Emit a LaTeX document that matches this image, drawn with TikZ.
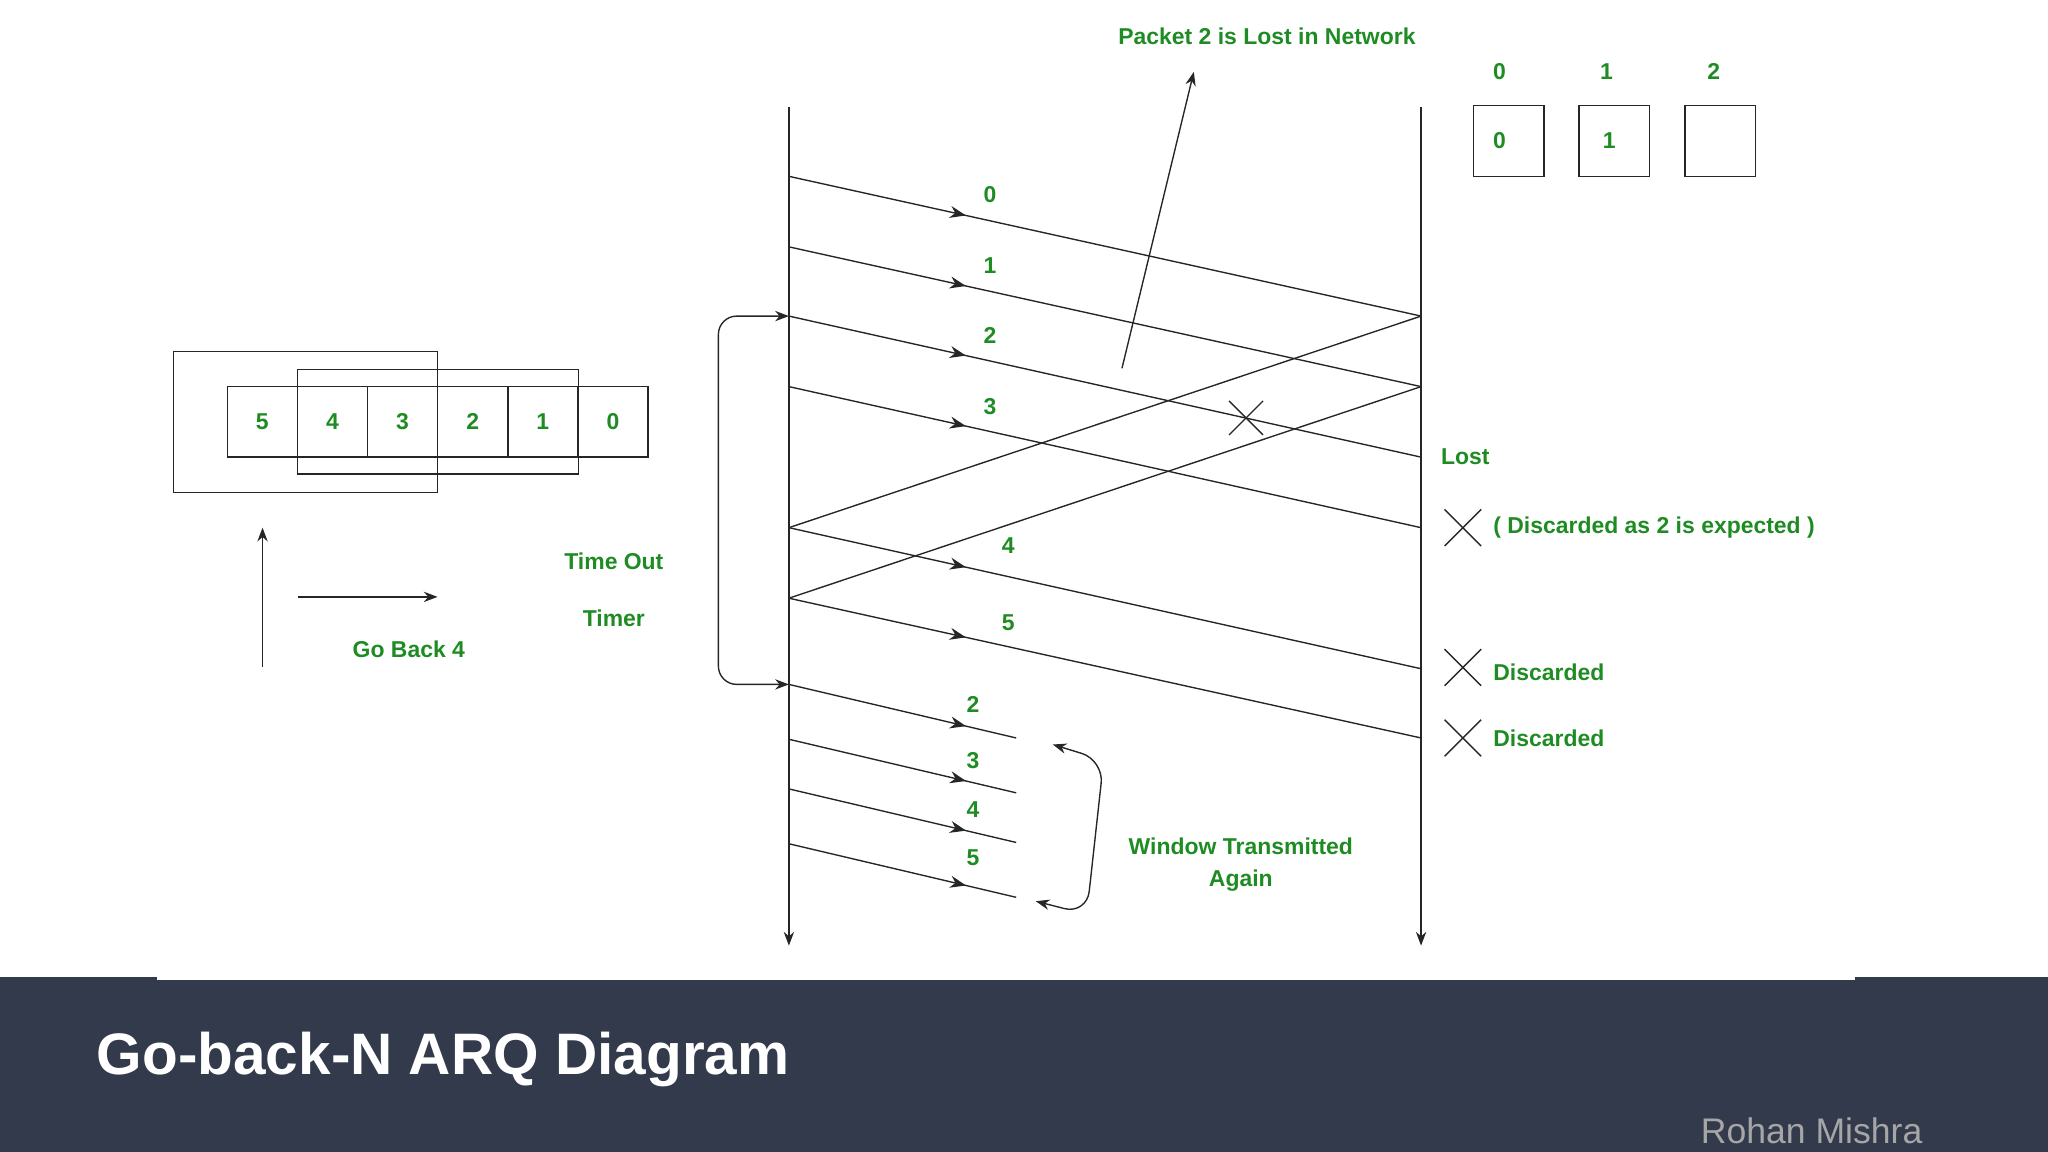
\documentclass[tikz,border=0pt]{standalone}
\usepackage{fontspec}
\setmainfont{Liberation Sans}
\usetikzlibrary{decorations.markings,arrows.meta}
\definecolor{gr}{HTML}{1E8C23}
\definecolor{band}{HTML}{323A4C}
\begin{document}
\begin{tikzpicture}[x=0.02cm,y=-0.02cm,
 lbl/.style={text=gr,font=\fontsize{10}{12}\selectfont\bfseries,inner sep=0pt},
 ln/.style={line width=0.6pt,black!85},
 fr/.style={ln,postaction={decorate},decoration={markings,mark=at position #1 with {\arrow{Stealth[length=7pt]}}}},
 bx/.style={ln,draw},
 tip/.style={-{Stealth[length=6pt]}}]
\useasboundingbox (0,0) rectangle (1568,882);
\fill[band] (0,748) rectangle (1568,882);
\fill[white] (120,746) rectangle (1420,750);
\node[anchor=west,text=white,font=\fontsize{25.5}{30}\selectfont\bfseries] (title) at (68,811) {Go-back-N ARQ Diagram};
\node[anchor=east,text=black!35,font=\fontsize{15.5}{18}\selectfont] (auth) at (1478,866) {Rohan Mishra};
% timelines
\coordinate (s0) at (604,82); \coordinate (s1) at (604,724);
\coordinate (r0) at (1088,82); \coordinate (r1) at (1088,724);
\draw[ln,tip] (s0) -- (s1);
\draw[ln,tip] (r0) -- (r1);
% frames
\foreach \n/\a/\b in {f0/135/242,f1/189/296,f2/242/350,f3/296/404,f4/404/512,f5/458/565}{
 \coordinate (\n s) at (604,\a); \coordinate (\n e) at (1088,\b);}
\draw[fr=0.28] (f0s) -- (f0e);
\draw[fr=0.28] (f1s) -- (f1e);
\draw[fr=0.28] (f2s) -- (f2e);
\draw[fr=0.28] (f3s) -- (f3e);
\draw[fr=0.28] (f4s) -- (f4e);
\draw[fr=0.28] (f5s) -- (f5e);
\draw[ln] (f0e) -- (f4s);
\draw[ln] (f1e) -- (f5s);
\node[lbl] (l0) at (758,149) {0};
\node[lbl] (l1) at (758,203) {1};
\node[lbl] (l2) at (758,257) {2};
\node[lbl] (l3) at (758,311) {3};
\node[lbl] (l4) at (772,418) {4};
\node[lbl] (l5) at (772,477) {5};
% cross on lost packet
\draw[ln] (941,307) -- (967,333) (941,333) -- (967,307);
% retransmissions
\foreach \n/\a in {g2/524,g3/566,g4/604,g5/646}{
 \coordinate (\n s) at (604,\a); \coordinate (\n e) at (778,\a+41);}
\draw[fr=0.78] (g2s) -- (g2e);
\draw[fr=0.78] (g3s) -- (g3e);
\draw[fr=0.78] (g4s) -- (g4e);
\draw[fr=0.78] (g5s) -- (g5e);
\node[lbl] (m2) at (745,539) {2};
\node[lbl] (m3) at (745,582) {3};
\node[lbl] (m4) at (745,620) {4};
\node[lbl] (m5) at (745,657) {5};
% timer bracket
\draw[ln,{Stealth[length=6pt]}-{Stealth[length=6pt]},rounded corners=8] (f2s) -- (550,242) -- (550,524) -- (g2s);
\node[lbl] (to) at (470,430) {Time Out};
\node[lbl] (tm) at (470,473) {Timer};
% packet lost label
\node[lbl] (pl) at (970,28) {Packet 2 is Lost in Network};
\coordinate (pa) at (859,282); \coordinate (pb) at (914,55);
\draw[ln,tip] (pa) -- (pb);
% window transmitted again
\draw[ln,{Stealth[length=6pt]}-{Stealth[length=6pt]},rounded corners=10] (806,570) -- (845,582) -- (832,700) -- (793,690);
\node[lbl,align=center] (wt) at (950,662) {Window Transmitted\\[2pt]Again};
% receiver buffer
\foreach \i/\x in {0/1155,1/1236,2/1317}{
 \node[lbl] (h\i) at (\x-7+\i*1,55) {\i};
 \node[bx,minimum size=54*0.02cm,inner sep=0pt] (b\i) at (\x,108) {};
}
\node[lbl] (bt0) at (1148,108) {0};
\node[lbl] (bt1) at (1232,108) {1};
% receiver notes
\node[lbl,anchor=west] (lost) at (1103,350) {Lost};
\draw[ln] (1106,390) -- (1134,418) (1106,418) -- (1134,390);
\node[lbl,anchor=west] (d1) at (1143,404) {( Discarded as 2 is expected )};
\draw[ln] (1106,497) -- (1134,525) (1106,525) -- (1134,497);
\node[lbl,anchor=west] (d2) at (1143,515) {Discarded};
\draw[ln] (1106,551) -- (1134,579) (1106,579) -- (1134,551);
\node[lbl,anchor=west] (d3) at (1143,565) {Discarded};
% sender window
\foreach \i/\t in {0/5,1/4,2/3,3/2,4/1,5/0}{
 \draw[ln] (174+\i*53.7,296) rectangle (174+\i*53.7+53.7,350);
 \node[lbl] (w\i) at (174+\i*53.7+26.8,323) {\t};
}
\draw[ln] (133,269) rectangle (335,377);
\draw[ln] (228,283) rectangle (443,363);
\coordinate (ua) at (201,511); \coordinate (ub) at (201,404);
\draw[ln,tip] (ua) -- (ub);
\coordinate (ra) at (228,457); \coordinate (rb) at (335,457);
\draw[ln,tip] (ra) -- (rb);
\node[lbl] (gb) at (313,497) {Go Back 4};
\end{tikzpicture}
\end{document}
